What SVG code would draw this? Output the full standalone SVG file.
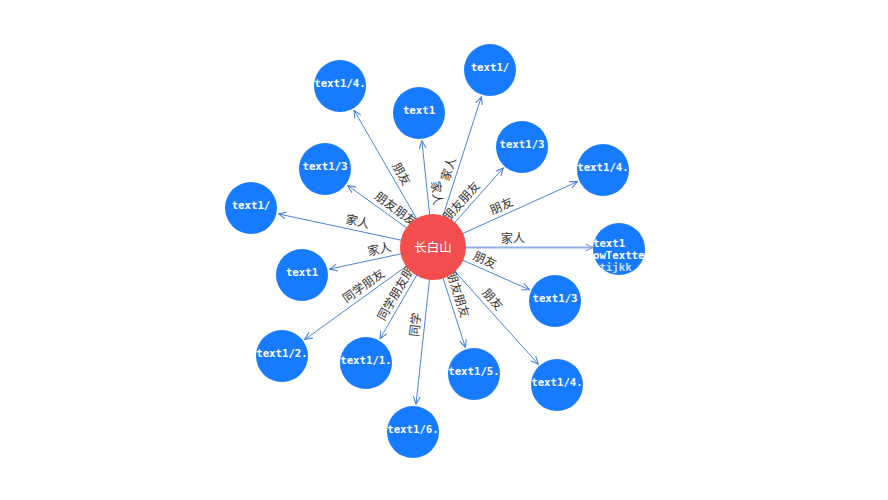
<svg xmlns="http://www.w3.org/2000/svg" width="888" height="500" viewBox="0 0 888 500">
<style>
.e{stroke:#4b83d5;stroke-width:1;fill:none;marker-end:url(#arr)}
.em{stroke:#8fb0e3;stroke-width:2;fill:none;marker-end:url(#arr2)}
.el{font-family:"Noto Sans CJK SC","Noto Sans",sans-serif;font-size:12px;fill:#333;text-anchor:middle}
.n{fill:#177bff}
.nt{font-family:"DejaVu Sans Mono","Liberation Mono",monospace;font-size:10.7px;font-weight:bold;fill:#fff;text-anchor:middle}
.ntl{font-family:"DejaVu Sans Mono","Liberation Mono",monospace;font-size:10.7px;font-weight:bold;fill:#fff}
</style>
<defs>
<marker id="arr" viewBox="0 0 10 10" refX="9.5" refY="5" markerWidth="9" markerHeight="9" markerUnits="userSpaceOnUse" orient="auto"><path d="M1,1.2 L9.5,5 L1,8.8" fill="none" stroke="#4b83d5" stroke-width="1.2"/></marker>
<marker id="arr2" viewBox="0 0 10 10" refX="9.5" refY="5" markerWidth="9" markerHeight="9" markerUnits="userSpaceOnUse" orient="auto"><path d="M1,1.2 L9.5,5 L1,8.8" fill="none" stroke="#7f9fd0" stroke-width="1.2"/></marker>
<clipPath id="cm"><rect x="593" y="222" width="52" height="54"/></clipPath>
</defs>
<rect width="888" height="500" fill="#fff"/>
<g id="edges">
<line class="e" x1="433" y1="247" x2="354.0" y2="110.2"/>
<line class="e" x1="433" y1="247" x2="421.9" y2="140.8"/>
<line class="e" x1="433" y1="247" x2="347.7" y2="185.4"/>
<line class="e" x1="433" y1="247" x2="278.4" y2="213.9"/>
<line class="e" x1="433" y1="247" x2="329.4" y2="269.1"/>
<line class="e" x1="433" y1="247" x2="304.7" y2="339.6"/>
<line class="e" x1="433" y1="247" x2="380.0" y2="338.8"/>
<line class="e" x1="433" y1="247" x2="416.0" y2="404.2"/>
<line class="e" x1="433" y1="247" x2="465.4" y2="347.4"/>
<line class="e" x1="433" y1="247" x2="538.3" y2="364.2"/>
<line class="e" x1="433" y1="247" x2="529.4" y2="289.7"/>
<line class="em" x1="433" y1="247.5" x2="593" y2="247.5"/>
<line class="e" x1="433" y1="247" x2="577.5" y2="181.6"/>
<line class="e" x1="433" y1="247" x2="503.4" y2="167.9"/>
<line class="e" x1="433" y1="247" x2="481.4" y2="96.7"/>
</g>
<g id="edge-labels">
<text class="el" transform="translate(393.5,178.6) rotate(60)" y="-5">朋友</text>
<text class="el" transform="translate(427.5,193.9) rotate(84.04)" y="-5">家人</text>
<text class="el" transform="translate(390.4,216.2) rotate(35.84)" y="-5">朋友朋友</text>
<text class="el" transform="translate(355.7,230.5) rotate(12.09)" y="-5">家人</text>
<text class="el" transform="translate(381.2,258.1) rotate(-12.06)" y="-5">家人</text>
<text class="el" transform="translate(368.9,293.3) rotate(-35.82)" y="-5">同学朋友</text>
<text class="el" transform="translate(406.5,292.9) rotate(-60)" y="-5">同学朋友朋友</text>
<text class="el" transform="translate(424.5,325.6) rotate(-83.83)" y="-5">同学</text>
<text class="el" transform="translate(449.2,297.2) rotate(72.11)" y="-5">朋友朋友</text>
<text class="el" transform="translate(485.7,305.6) rotate(48.06)" y="-5">朋友</text>
<text class="el" transform="translate(481.2,268.4) rotate(23.87)" y="-5">朋友</text>
<text class="el" transform="translate(513,247.5)" y="-5">家人</text>
<text class="el" transform="translate(505.3,214.3) rotate(-24.37)" y="-5">朋友</text>
<text class="el" transform="translate(468.2,207.5) rotate(-48.33)" y="-5">朋友朋友</text>
<text class="el" transform="translate(457.2,171.9) rotate(-72.15)" y="-5">家人</text>
</g>
<g id="n1"><circle class="n" cx="340" cy="86" r="26"/><text class="nt" x="340" y="87">text1/4.</text></g>
<g id="n2"><circle class="n" cx="419" cy="113" r="26"/><text class="nt" x="419" y="114">text1</text></g>
<g id="n3"><circle class="n" cx="325" cy="169" r="26"/><text class="nt" x="325" y="170">text1/3</text></g>
<g id="n4"><circle class="n" cx="251" cy="208" r="26"/><text class="nt" x="251" y="209">text1/</text></g>
<g id="n5"><circle class="n" cx="302" cy="275" r="26"/><text class="nt" x="302" y="276">text1</text></g>
<g id="n6"><circle class="n" cx="282" cy="356" r="26"/><text class="nt" x="282" y="357">text1/2.</text></g>
<g id="n7"><circle class="n" cx="366" cy="363" r="26"/><text class="nt" x="366" y="364">text1/1.</text></g>
<g id="n8"><circle class="n" cx="413" cy="432" r="26"/><text class="nt" x="413" y="433">text1/6.</text></g>
<g id="n9"><circle class="n" cx="474" cy="374" r="26"/><text class="nt" x="474" y="375">text1/5.</text></g>
<g id="n10"><circle class="n" cx="557" cy="385" r="26"/><text class="nt" x="557" y="386">text1/4.</text></g>
<g id="n11"><circle class="n" cx="555" cy="301" r="26"/><text class="nt" x="555" y="302">text1/3</text></g>
<g id="n12"><circle class="n" cx="619" cy="249" r="26"/><g clip-path="url(#cm)"><text class="ntl" x="593" y="247">text1</text><text class="ntl" x="593" y="259">owTextte</text><text class="ntl" x="593" y="271" fill-opacity="0.75">ztijkk</text></g></g>
<g id="n13"><circle class="n" cx="603" cy="170" r="26"/><text class="nt" x="603" y="171">text1/4.</text></g>
<g id="n14"><circle class="n" cx="522" cy="147" r="26"/><text class="nt" x="522" y="148">text1/3</text></g>
<g id="n15"><circle class="n" cx="490" cy="70" r="26"/><text class="nt" x="490" y="71">text1/</text></g>
<g id="center"><circle cx="433" cy="247" r="33" fill="#f24e4e"/><text x="433" y="252" text-anchor="middle" font-family="Noto Sans CJK SC, Noto Sans, sans-serif" font-size="12.5" fill="#fff">长白山</text></g>
</svg>
